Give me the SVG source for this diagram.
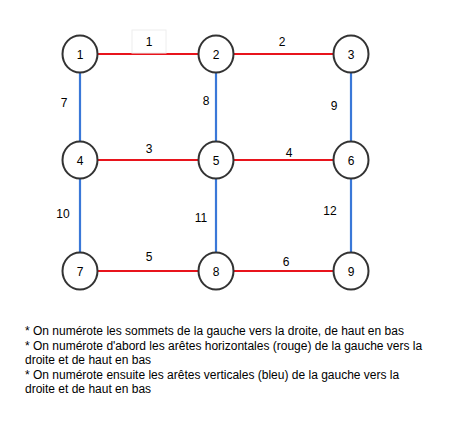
<svg xmlns="http://www.w3.org/2000/svg" width="462" height="429" viewBox="0 0 462 429">
<style>
.h{stroke:#e8141c;stroke-width:2;fill:none}
.v{stroke:#3a78d8;stroke-width:2.2;fill:none}
.n ellipse{fill:#fff;stroke:#333;stroke-width:2}
text{font-family:"Liberation Sans",Arial,sans-serif;font-size:12px;fill:#000}
.n text{text-anchor:middle}
.l{text-anchor:middle}
</style>
<rect width="462" height="429" fill="#fff"/>
<g id="connectors">
<line class="h" x1="80" y1="54" x2="216" y2="54"/>
<line class="h" x1="216" y1="54" x2="351" y2="54"/>
<line class="h" x1="80" y1="160" x2="216" y2="160"/>
<line class="h" x1="216" y1="160" x2="351" y2="160"/>
<line class="h" x1="80" y1="271" x2="216" y2="271"/>
<line class="h" x1="216" y1="271" x2="351" y2="271"/>
<line class="v" x1="80" y1="54" x2="80" y2="160"/>
<line class="v" x1="80" y1="160" x2="80" y2="271"/>
<line class="v" x1="216" y1="54" x2="216" y2="160"/>
<line class="v" x1="216" y1="160" x2="216" y2="271"/>
<line class="v" x1="351" y1="54" x2="351" y2="160"/>
<line class="v" x1="351" y1="160" x2="351" y2="271"/>
<rect x="132" y="30" width="34" height="23" fill="#fff" stroke="#eeeeee" stroke-width="1"/>
<text class="l" x="149" y="46">1</text>
<text class="l" x="282" y="46">2</text>
<text class="l" x="149" y="153">3</text>
<text class="l" x="289" y="157">4</text>
<text class="l" x="149" y="261">5</text>
<text class="l" x="286" y="266">6</text>
<text class="l" x="64" y="107">7</text>
<text class="l" x="206" y="105">8</text>
<text class="l" x="334" y="110">9</text>
<text class="l" x="63" y="218">10</text>
<text class="l" x="201" y="222">11</text>
<text class="l" x="330" y="215">12</text>
</g>
<g id="n1" class="n"><ellipse cx="80" cy="54" rx="17.5" ry="18.5"/><text x="80" y="58.5">1</text></g>
<g id="n2" class="n"><ellipse cx="216" cy="54" rx="17.5" ry="18.5"/><text x="216" y="58.5">2</text></g>
<g id="n3" class="n"><ellipse cx="351" cy="54" rx="17.5" ry="18.5"/><text x="351" y="58.5">3</text></g>
<g id="n4" class="n"><ellipse cx="80" cy="160" rx="17.5" ry="18.5"/><text x="80" y="164.5">4</text></g>
<g id="n5" class="n"><ellipse cx="216" cy="160" rx="17.5" ry="18.5"/><text x="216" y="164.5">5</text></g>
<g id="n6" class="n"><ellipse cx="351" cy="160" rx="17.5" ry="18.5"/><text x="351" y="164.5">6</text></g>
<g id="n7" class="n"><ellipse cx="80" cy="271" rx="17.5" ry="18.5"/><text x="80" y="275.5">7</text></g>
<g id="n8" class="n"><ellipse cx="216" cy="271" rx="17.5" ry="18.5"/><text x="216" y="275.5">8</text></g>
<g id="n9" class="n"><ellipse cx="351" cy="271" rx="17.5" ry="18.5"/><text x="351" y="275.5">9</text></g>
<g id="note">
<text x="25" y="335">* On numérote les sommets de la gauche vers la droite, de haut en bas</text>
<text x="25" y="350">* On numérote d'abord les arêtes horizontales (rouge) de la gauche vers la</text>
<text x="25" y="364">droite et de haut en bas</text>
<text x="25" y="379">* On numérote ensuite les arêtes verticales (bleu) de la gauche vers la</text>
<text x="25" y="393">droite et de haut en bas</text>
</g>
</svg>
